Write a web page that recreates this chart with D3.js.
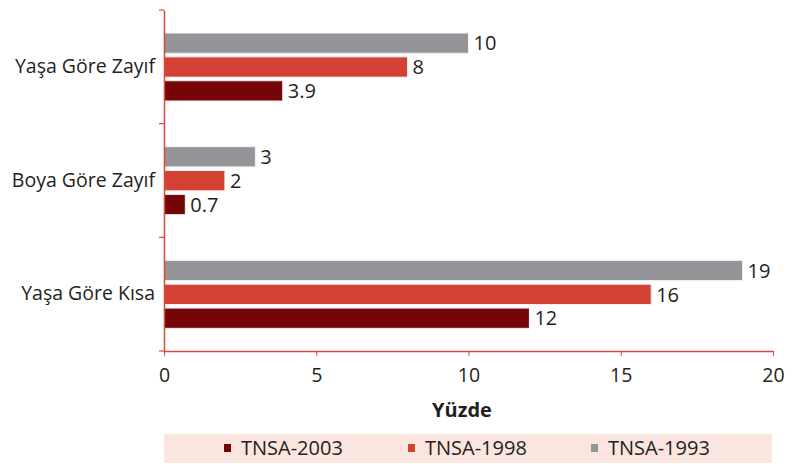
<!DOCTYPE html>
<html><head><meta charset="utf-8">
<script src="https://cdn.jsdelivr.net/npm/d3@7"></script>
<style>body{margin:0;background:#fff}svg{display:block}text{font-family:"Open Sans",sans-serif}</style>
</head><body><svg id="c" width="811" height="466"></svg>
<script>
const categories = ["Yaşa Göre Zayıf", "Boya Göre Zayıf", "Yaşa Göre Kısa"];
const seriesNames = ["TNSA-1993", "TNSA-1998", "TNSA-2003"];
const tnsa1993 = [10, 3, 19];
const tnsa1998 = [8, 2, 16];
const tnsa2003 = [3.9, 0.7, 12];
const seriesValues = [tnsa1993, tnsa1998, tnsa2003];
const colors = ["#939598", "#d34135", "#760507"];
const xTicks = [0, 5, 10, 15, 20];
const legendOrder = ["TNSA-2003", "TNSA-1998", "TNSA-1993"];

const svg = d3.select("#c");
const m = {l:164, r:773, t:10, b:351};
const x = d3.scaleLinear().domain([0,20]).range([m.l, m.r]);
const y = d3.scaleBand().domain(categories).range([m.t, m.b]);
const inner = d3.scaleBand().domain(seriesNames).range([23, 91]).paddingInner(0.15);
const axisColor = "#e0463a";
const txt = "#231f20";

// bars
seriesNames.forEach((s, si) => {
  const g = svg.append("g");
  categories.forEach((c, ci) => {
    const v = seriesValues[si][ci];
    g.append("rect")
      .attr("x", x(0)).attr("y", y(c) + inner(s))
      .attr("width", x(v) - x(0)).attr("height", inner.bandwidth())
      .attr("fill", colors[si]).attr("stroke", "#f3f3f3").attr("stroke-width", 1);
    g.append("text")
      .attr("x", x(v) + 5).attr("y", y(c) + inner(s) + inner.bandwidth()/2)
      .attr("dy", "0.36em").attr("font-size", 20).attr("fill", txt)
      .text(v);
  });
});

// x axis
const xa = svg.append("g").attr("transform", `translate(0,${m.b})`)
  .call(d3.axisBottom(x).tickValues(xTicks).tickSize(5).tickSizeOuter(0).tickPadding(12));
xa.select(".domain").attr("stroke", axisColor).attr("stroke-width", 1.5);
xa.selectAll(".tick line").attr("stroke", axisColor);
xa.selectAll(".tick text").attr("font-size", 19.5).attr("fill", txt).attr("font-family", "Open Sans");

// y axis
const ya = svg.append("g").attr("transform", `translate(${m.l},0)`)
  .call(d3.axisLeft(y).tickSize(0).tickPadding(9));
ya.select(".domain").attr("stroke", axisColor).attr("stroke-width", 1.5);
ya.selectAll(".tick text").attr("font-size", 19.5).attr("fill", txt).attr("font-family", "Open Sans");
// y boundary ticks
const yb = [m.t, ...categories.slice(1).map(c => y(c)), m.b];
svg.selectAll(".ybt").data(yb).enter().append("line")
  .attr("x1", m.l - 5).attr("x2", m.l).attr("y1", d => d).attr("y2", d => d)
  .attr("stroke", axisColor).attr("stroke-width", 1.2);

// axis title
svg.append("text").attr("x", 462).attr("y", 417)
  .attr("text-anchor", "middle").attr("font-size", 20).attr("font-weight", "bold")
  .attr("fill", txt).text("Yüzde");

// legend
svg.append("rect").attr("x", 164).attr("y", 434).attr("width", 608).attr("height", 29).attr("fill", "#fae6df");
const lx = [241, 425, 608];
legendOrder.forEach((s, i) => {
  const ci = seriesNames.indexOf(s);
  svg.append("rect").attr("x", lx[i] - 17).attr("y", 444).attr("width", 7).attr("height", 8).attr("fill", colors[ci]);
  svg.append("text").attr("x", lx[i]).attr("y", 455)
    .attr("font-size", 20).attr("fill", txt).text(s);
});
</script></body></html>
